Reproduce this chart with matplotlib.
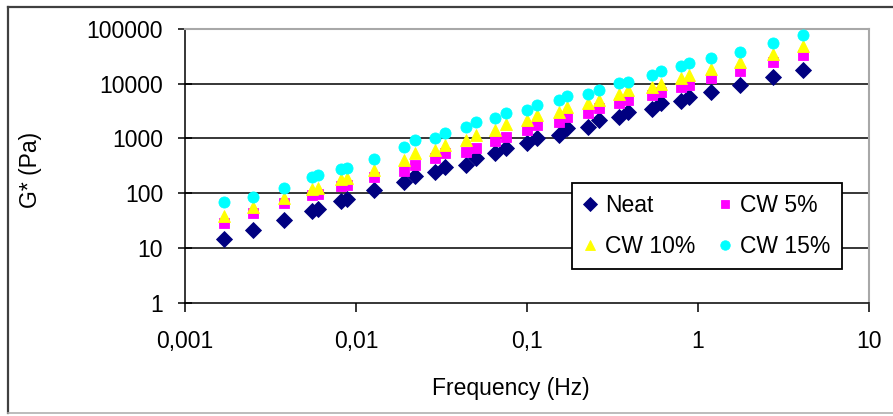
import matplotlib
matplotlib.use("Agg")
import matplotlib.pyplot as plt
from matplotlib.lines import Line2D
from matplotlib.ticker import NullLocator

plt.rcParams['font.family'] = ['Liberation Sans', 'DejaVu Sans']

# ---- data ----
freq = [0.0017, 0.0025, 0.0038, 0.00555, 0.0060, 0.0082, 0.0089, 0.0128,
        0.019, 0.022, 0.029, 0.033, 0.044, 0.050, 0.065, 0.075,
        0.100, 0.115, 0.153, 0.172, 0.226, 0.262, 0.343, 0.392,
        0.535, 0.604, 0.80, 0.89, 1.19, 1.75, 2.74, 4.09]
neat = [14.3, 21.4, 32.7, 48, 52, 72, 77, 113,
        158, 203, 240, 297, 323, 433, 535, 660,
        815, 1000, 1140, 1540, 1600, 2150, 2450, 3000,
        3400, 4400, 4800, 5650, 7100, 9400, 13400, 17800]
cw5 = [28, 42.6, 65, 92, 98, 135, 143, 194,
       255, 320, 434, 535, 560, 660, 890, 1050,
       1410, 1740, 1980, 2450, 2900, 3560, 4400, 5000,
       6200, 7000, 8700, 9400, 12600, 17000, 25000, 33500]
cw10 = [37.5, 55, 80, 118, 126, 180, 192, 261,
        400, 535, 610, 750, 920, 1140, 1410, 1820,
        2150, 2650, 3000, 3720, 4400, 5000, 6450, 7600,
        8700, 9800, 12600, 14400, 18500, 25000, 34800, 49000]
cw15 = [68, 86, 122, 195, 212, 275, 290, 417,
        690, 920, 1000, 1250, 1600, 1980, 2340, 2900,
        3300, 4050, 5000, 5900, 6450, 7600, 10250, 10700,
        14400, 17000, 21000, 24000, 29500, 38000, 55000, 78000]

series_labels = ["Neat", "CW 5%", "CW 10%", "CW 15%"]
x_ticks = [0.001, 0.01, 0.1, 1, 10]
x_ticklabels = ["0,001", "0,01", "0,1", "1", "10"]
y_ticks = [1, 10, 100, 1000, 10000, 100000]
y_ticklabels = ["1", "10", "100", "1000", "10000", "100000"]

W, H = 893, 416
fig = plt.figure(figsize=(W / 100, H / 100), dpi=100)
fig.patch.set_facecolor('white')

# outer frame of the picture
fig.add_artist(Line2D([8 / W, 1.0], [1 - 7 / H, 1 - 7 / H], color='#404040', lw=1.6))
fig.add_artist(Line2D([8 / W, 8 / W], [1 - 7 / H, 1 - 413 / H], color='#404040', lw=1.6))
fig.add_artist(Line2D([8 / W, 1.0], [1 - 413 / H, 1 - 413 / H], color='#b0b0b0', lw=1.2))

left, right, top, bottom = 185, 869, 29, 302.5
ax = fig.add_axes([left / W, 1 - bottom / H, (right - left) / W, (bottom - top) / H])
ax.set_xscale('log')
ax.set_yscale('log')
ax.set_xlim(0.001, 10)
ax.set_ylim(1, 100000)

for y in [10, 100, 1000, 10000]:
    ax.axhline(y, color='black', lw=1.1, zorder=1)

styles = [
    dict(marker='D', color='#000080', ms=7.8),
    dict(marker='s', color='#FF00FF', ms=6.8),
    dict(marker='^', color='#FFFF00', ms=8.0),
    dict(marker='o', color='#00FFFF', ms=8.0),
]
handles = []
for vals, lab, st in zip([neat, cw5, cw10, cw15], series_labels, styles):
    h, = ax.plot(freq, vals, linestyle='none', marker=st['marker'], ms=st['ms'],
                 markerfacecolor=st['color'], markeredgecolor=st['color'],
                 markeredgewidth=0.6, label=lab, zorder=3, clip_on=False)
    handles.append(h)

ax.set_xticks(x_ticks)
ax.set_xticklabels(x_ticklabels)
ax.set_yticks(y_ticks)
ax.set_yticklabels(y_ticklabels)
ax.xaxis.set_minor_locator(NullLocator())
ax.yaxis.set_minor_locator(NullLocator())
ax.tick_params(axis='x', direction='out', length=6.5, width=1.1, pad=13, labelsize=16.5, colors='black')
ax.tick_params(axis='y', direction='inout', length=9.4, width=1.1, pad=11, labelsize=16.5, colors='black')

for s in ['left', 'bottom']:
    ax.spines[s].set_color('black')
    ax.spines[s].set_linewidth(1.1)
for s in ['top', 'right']:
    ax.spines[s].set_color('#a8a8a8')
    ax.spines[s].set_linewidth(1.5)

ax.set_xlabel("Frequency (Hz)", fontsize=16.5)
ax.xaxis.label.set_verticalalignment('center')
ax.xaxis.set_label_coords((511 - left) / (right - left), -(388 - bottom) / (bottom - top))
ax.set_ylabel("G* (Pa)", fontsize=16.5)
ax.yaxis.label.set_verticalalignment('center')
ax.yaxis.set_label_coords((30 - left) / (right - left), (bottom - 170) / (bottom - top))

order = [0, 2, 1, 3]
leg = ax.legend([handles[i] for i in order], [series_labels[i] for i in order],
                ncol=2, loc='upper left',
                bbox_to_anchor=((572 - left) / (right - left), (bottom - 183) / (bottom - top)),
                borderaxespad=0, fontsize=16.5, frameon=True, fancybox=False,
                handlelength=0.6, handletextpad=0.35, columnspacing=1.0,
                labelspacing=0.75, borderpad=0.5, numpoints=1, markerscale=0.85)
leg.get_frame().set_edgecolor('black')
leg.get_frame().set_linewidth(1.3)
leg.get_frame().set_alpha(1)
leg.set_zorder(5)

fig.savefig("out.png", dpi=100)
